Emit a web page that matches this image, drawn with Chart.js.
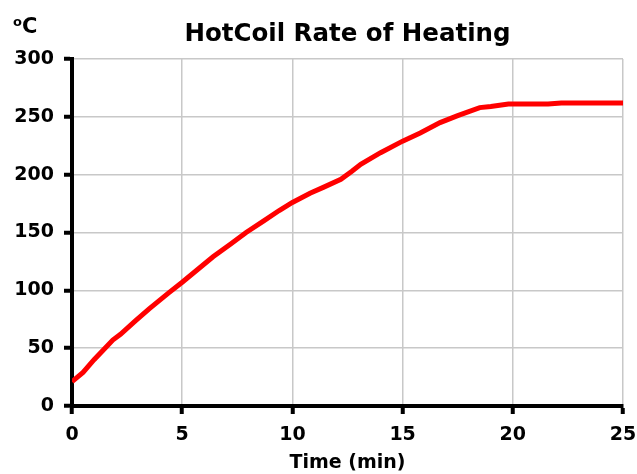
<!DOCTYPE html>
<html>
<head>
<meta charset="utf-8">
<script src="https://cdn.jsdelivr.net/npm/chart.js@4"></script>
<style>
  html, body { margin: 0; padding: 0; background: #fff; }
  #wrap { width: 637px; height: 474px; }
</style>
</head>
<body>
<div id="wrap"><canvas id="line"></canvas></div>
<script>
const chartTitle = "HotCoil Rate of Heating";
const xTitle = "Time (min)";
const unitLabel = "C";

// readings
const timeMin = [0, 0.5, 1.0, 1.4, 1.85, 2.2, 2.9, 3.5, 4.4, 5.0, 5.7, 6.4, 7.2, 7.9, 8.7, 9.4, 10.0,
  10.8, 11.4, 12.2, 12.7, 13.1, 14.0, 15.0, 15.8, 16.7, 17.5, 18.5, 19.0, 19.8, 21.6, 22.2, 25];
const tempC = [21, 29, 40, 48, 57, 62, 74, 84, 98, 107, 118, 129, 140, 150, 160, 169, 176,
  184, 189, 196, 203, 209, 219, 229, 236, 245, 251, 258, 259, 261, 261, 262, 262];

const FONT = "'DejaVu Sans', 'Liberation Sans', Arial, sans-serif";

const headings = {
  id: 'headings',
  afterDraw: (chart) => {
    const {ctx, chartArea} = chart;
    ctx.save();
    ctx.fillStyle = '#000';
    ctx.textBaseline = 'alphabetic';
    ctx.textAlign = 'center';
    ctx.font = 'bold 24.5px ' + FONT;
    ctx.fillText(chartTitle, (chartArea.left + chartArea.right) / 2, 41);
    ctx.textAlign = 'left';
    ctx.font = 'bold 13px ' + FONT;
    ctx.fillText('o', 13, 26);
    ctx.font = 'bold 21px ' + FONT;
    ctx.fillText(unitLabel, 22, 33);
    ctx.restore();
  }
};

const ctx = document.getElementById("line").getContext("2d");

new Chart(ctx, {
  type: "line",
  data: {
    datasets: [{
      data: timeMin.map((t, i) => ({x: t, y: tempC[i]})),
      borderColor: "#ff0000",
      borderWidth: 5,
      pointRadius: 0,
      tension: 0,
      fill: false
    }]
  },
  plugins: [headings],
  options: {
    responsive: true,
    maintainAspectRatio: false,
    animation: false,
    layout: {
      padding: {left: 0, right: 14, top: 59, bottom: 0}
    },
    plugins: {
      legend: {display: false},
      title: {display: false},
      tooltip: {enabled: false}
    },
    scales: {
      x: {
        type: "linear",
        min: 0,
        max: 25,
        afterFit: (scale) => {
          scale.height = 68;
          scale.paddingLeft = 0;
          scale.paddingRight = 0;
        },
        ticks: {
          stepSize: 5,
          color: "#000",
          padding: 10,
          maxRotation: 0,
          font: {size: 19, weight: "bold", family: FONT}
        },
        grid: {
          color: "#c8c8c8",
          lineWidth: 1.5,
          tickColor: "#000",
          tickWidth: 4,
          tickLength: 8
        },
        border: {color: "#000", width: 4},
        title: {
          display: true,
          text: xTitle,
          color: "#000",
          padding: {top: 2, bottom: 0},
          font: {size: 19, weight: "bold", family: FONT}
        }
      },
      y: {
        min: 0,
        max: 300,
        afterFit: (scale) => { scale.width = 72; },
        ticks: {
          stepSize: 50,
          color: "#000",
          padding: 10,
          font: {size: 19, weight: "bold", family: FONT}
        },
        grid: {
          color: "#c8c8c8",
          lineWidth: 1.5,
          tickColor: "#000",
          tickWidth: 4,
          tickLength: 8
        },
        border: {color: "#000", width: 4}
      }
    }
  }
});
</script>
</body>
</html>
